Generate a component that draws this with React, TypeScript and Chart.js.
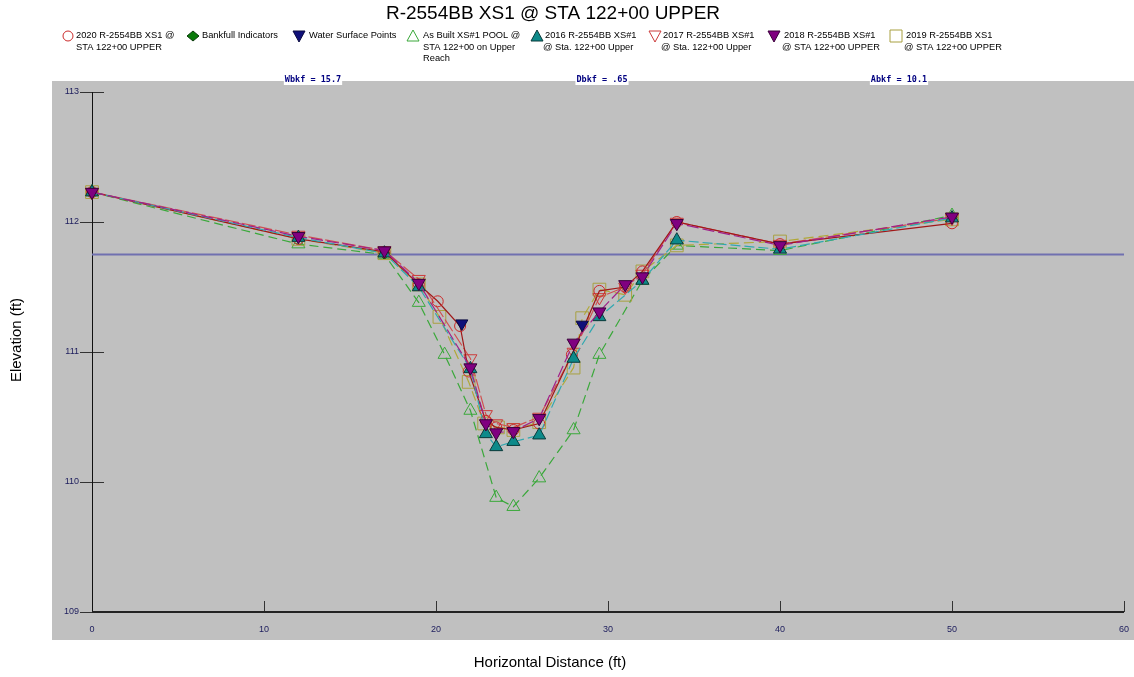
import React, { useEffect, useRef } from 'react';
import { Chart, registerables } from 'chart.js';

Chart.register(...registerables);

// ---- Data ----
const chartTitle = 'R-2554BB XS1 @ STA 122+00 UPPER';
const xAxisTitle = 'Horizontal Distance (ft)';
const yAxisTitle = 'Elevation (ft)';
const xTicks = [0, 10, 20, 30, 40, 50, 60];
const yTicks = [109, 110, 111, 112, 113];
const bankfullElevation = 111.75;
const bankfullLineX = [0, 60];
const topLabels = ['Wbkf = 15.7', 'Dbkf = .65', 'Abkf = 10.1'];

const x2020 = [0, 12, 17, 19, 20.1, 21.4, 21.9, 22.9, 23.5, 24.5, 26, 27.9, 29.5, 31, 32, 34, 40, 50];
const y2020 = [112.23, 111.87, 111.77, 111.52, 111.39, 111.2, 110.85, 110.47, 110.42, 110.4, 110.45, 110.98, 111.47, 111.5, 111.62, 112.0, 111.83, 111.99];

const xBankfull = [17];
const yBankfull = [111.76];

const xWater = [21.5, 28.5];
const yWater = [111.22, 111.21];

const xAsBuilt = [0, 12, 17, 19, 20.5, 22, 23.5, 24.5, 26, 28, 29.5, 32, 34, 40, 50];
const yAsBuilt = [112.23, 111.83, 111.75, 111.38, 110.98, 110.55, 109.88, 109.81, 110.03, 110.4, 110.98, 111.55, 111.82, 111.78, 112.05];

const x2016 = [0, 12, 17, 19, 22, 22.9, 23.5, 24.5, 26, 28, 29.5, 32, 34, 40, 50];
const y2016 = [112.23, 111.88, 111.76, 111.5, 110.87, 110.37, 110.27, 110.31, 110.36, 110.95, 111.27, 111.55, 111.86, 111.79, 112.03];

const x2017 = [0, 12, 17, 19, 22, 22.9, 23.5, 24.5, 26, 28, 29.5, 31, 32, 34, 40, 50];
const y2017 = [112.23, 111.9, 111.78, 111.56, 110.95, 110.52, 110.45, 110.42, 110.5, 111.0, 111.42, 111.5, 111.6, 112.0, 111.83, 112.03];

const x2018 = [0, 12, 17, 19, 22, 22.9, 23.5, 24.5, 26, 28, 29.5, 31, 32, 34, 40, 50];
const y2018 = [112.23, 111.89, 111.78, 111.53, 110.88, 110.45, 110.38, 110.39, 110.49, 111.07, 111.31, 111.52, 111.58, 111.99, 111.82, 112.04];

const x2019 = [0, 12, 17, 19, 20.2, 21.9, 22.8, 23.6, 24.5, 26, 28, 28.5, 29.5, 31, 32, 34, 40, 50];
const y2019 = [112.23, 111.87, 111.76, 111.52, 111.27, 110.77, 110.45, 110.42, 110.4, 110.46, 110.88, 111.26, 111.48, 111.44, 111.62, 111.82, 111.85, 112.02];

const legendLabels = [
  ['2020 R-2554BB XS1 @', 'STA 122+00 UPPER'],
  ['Bankfull Indicators'],
  ['Water Surface Points'],
  ['As Built XS#1 POOL @', 'STA 122+00 on Upper', 'Reach'],
  ['2016 R-2554BB XS#1', '@ Sta. 122+00 Upper'],
  ['2017 R-2554BB XS#1', '@ Sta. 122+00 Upper'],
  ['2018 R-2554BB XS#1', '@ STA 122+00 UPPER'],
  ['2019 R-2554BB XS1', '@ STA 122+00 UPPER'],
];

const pts = (xs: number[], ys: number[]) => xs.map((x, i) => ({ x, y: ys[i] }));

type MarkerKind = 'circle' | 'diamond' | 'triDown' | 'triUp' | 'square';
interface LegendStyle { kind: MarkerKind; fill: string | null; stroke: string; }
const legendStyles: LegendStyle[] = [
  { kind: 'circle', fill: null, stroke: '#cc2a2a' },
  { kind: 'diamond', fill: '#0a7a0a', stroke: '#0b3b0b' },
  { kind: 'triDown', fill: '#10107a', stroke: '#0a0a40' },
  { kind: 'triUp', fill: null, stroke: '#3aa83a' },
  { kind: 'triUp', fill: '#0d8a8a', stroke: '#0a3a3a' },
  { kind: 'triDown', fill: null, stroke: '#cc3a3a' },
  { kind: 'triDown', fill: '#800080', stroke: '#3a003a' },
  { kind: 'square', fill: null, stroke: '#a8a040' },
];
const legendMarkerX = [68, 193, 299, 413, 537, 655, 774, 896];
const legendTextX = [76, 202, 309, 423, 545, 663, 784, 906];

function drawMarker(ctx: CanvasRenderingContext2D, s: LegendStyle, x: number, y: number) {
  ctx.save();
  ctx.beginPath();
  if (s.kind === 'circle') {
    ctx.arc(x, y, 5, 0, Math.PI * 2);
  } else if (s.kind === 'diamond') {
    ctx.moveTo(x, y - 5); ctx.lineTo(x + 6, y); ctx.lineTo(x, y + 5); ctx.lineTo(x - 6, y); ctx.closePath();
  } else if (s.kind === 'triDown') {
    ctx.moveTo(x - 6, y - 5); ctx.lineTo(x + 6, y - 5); ctx.lineTo(x, y + 6); ctx.closePath();
  } else if (s.kind === 'triUp') {
    ctx.moveTo(x - 6, y + 5); ctx.lineTo(x + 6, y + 5); ctx.lineTo(x, y - 6); ctx.closePath();
  } else {
    ctx.rect(x - 6, y - 6, 12, 12);
  }
  if (s.fill) { ctx.fillStyle = s.fill; ctx.fill(); }
  ctx.lineWidth = 1;
  ctx.strokeStyle = s.stroke;
  ctx.stroke();
  ctx.restore();
}

const framePlugin = {
  id: 'frame',
  beforeDraw(chart: any) {
    const ctx = chart.ctx as CanvasRenderingContext2D;
    ctx.save();
    ctx.fillStyle = '#ffffff';
    ctx.fillRect(0, 0, chart.width, chart.height);
    ctx.fillStyle = '#c0c0c0';
    ctx.fillRect(52, 81, chart.width - 52, 640 - 81);
    ctx.restore();
  },
  beforeDatasetsDraw(chart: any) {
    const ctx = chart.ctx as CanvasRenderingContext2D;
    const xs = chart.scales.x;
    const ys = chart.scales.y;
    const x0 = xs.getPixelForValue(xTicks[0]);
    const x1 = xs.getPixelForValue(xTicks[xTicks.length - 1]);
    const y0 = ys.getPixelForValue(yTicks[0]);
    const y1 = ys.getPixelForValue(yTicks[yTicks.length - 1]);
    ctx.save();
    ctx.strokeStyle = '#333333';
    ctx.lineWidth = 1;
    yTicks.forEach((v) => {
      const y = Math.round(ys.getPixelForValue(v)) + 0.5;
      ctx.beginPath(); ctx.moveTo(x0 - 12, y); ctx.lineTo(x0 + 12, y); ctx.stroke();
    });
    xTicks.forEach((v) => {
      const x = Math.round(xs.getPixelForValue(v)) + 0.5;
      ctx.beginPath(); ctx.moveTo(x, y0 - 11); ctx.lineTo(x, y0); ctx.stroke();
    });
    ctx.strokeStyle = '#111111';
    ctx.beginPath(); ctx.moveTo(Math.round(x0) + 0.5, y1); ctx.lineTo(Math.round(x0) + 0.5, y0); ctx.stroke();
    ctx.lineWidth = 2;
    ctx.strokeStyle = '#222222';
    ctx.beginPath(); ctx.moveTo(x0, Math.round(y0)); ctx.lineTo(x1, Math.round(y0)); ctx.stroke();
    ctx.restore();
  },
  afterDraw(chart: any) {
    const ctx = chart.ctx as CanvasRenderingContext2D;
    const xs = chart.scales.x;
    const ys = chart.scales.y;
    const x0 = xs.getPixelForValue(xTicks[0]);
    const y0 = ys.getPixelForValue(yTicks[0]);
    ctx.save();
    ctx.fillStyle = '#1c1c5c';
    ctx.font = '9px "Liberation Sans", Arial, sans-serif';
    ctx.textAlign = 'right';
    ctx.textBaseline = 'middle';
    yTicks.forEach((v) => ctx.fillText(String(v), x0 - 13, ys.getPixelForValue(v)));
    ctx.textAlign = 'center';
    ctx.textBaseline = 'middle';
    xTicks.forEach((v) => ctx.fillText(String(v), xs.getPixelForValue(v), y0 + 18));
    ctx.fillStyle = '#000000';
    ctx.font = '19px "Liberation Sans", Arial, sans-serif';
    ctx.textAlign = 'center';
    ctx.textBaseline = 'middle';
    ctx.fillText(chartTitle, 553, 14);
    ctx.font = '15px "Liberation Sans", Arial, sans-serif';
    ctx.fillText(xAxisTitle, 550, 663);
    ctx.save();
    ctx.translate(17, 340);
    ctx.rotate(-Math.PI / 2);
    ctx.fillText(yAxisTitle, 0, 0);
    ctx.restore();
    ctx.font = '9.3px "Liberation Sans", Arial, sans-serif';
    ctx.textAlign = 'left';
    ctx.textBaseline = 'middle';
    legendLabels.forEach((lines, i) => {
      drawMarker(ctx, legendStyles[i], legendMarkerX[i], 36);
      lines.forEach((ln, j) => {
        ctx.fillStyle = '#000000';
        ctx.fillText(ln, legendTextX[i] - (j > 0 && i >= 4 ? 2 : 0), 35.5 + j * 11.5);
      });
    });
    ctx.font = 'bold 8.5px "DejaVu Sans Mono", "Liberation Mono", monospace';
    ctx.textAlign = 'center';
    ctx.textBaseline = 'middle';
    const centers = [313, 602, 899];
    topLabels.forEach((t, i) => {
      const w = ctx.measureText(t).width + 2;
      ctx.fillStyle = '#ffffff';
      ctx.fillRect(centers[i] - w / 2, 74, w, 11);
      ctx.fillStyle = '#000080';
      ctx.fillText(t, centers[i], 79.5);
    });
    ctx.restore();
  },
};

export default function App() {
  const ref = useRef<HTMLCanvasElement | null>(null);
  useEffect(() => {
    if (!ref.current) return;
    const chart = new Chart(ref.current, {
      type: 'line',
      data: {
        datasets: [
          {
            label: 'Water Surface Points',
            data: pts(xWater, yWater),
            showLine: false,
            pointStyle: 'triangle', rotation: 180,
            pointRadius: 7,
            backgroundColor: '#10107a', borderColor: '#0a0a40', pointBorderWidth: 1,
            order: 0, clip: false,
          },
          {
            label: '2018 R-2554BB XS#1 @ STA 122+00 UPPER',
            data: pts(x2018, y2018),
            borderColor: '#a0208a', borderWidth: 1.2, borderDash: [12, 4],
            pointStyle: 'triangle', rotation: 180, pointRadius: 7.5,
            pointBackgroundColor: '#800080', pointBorderColor: '#3a003a', pointBorderWidth: 1,
            order: 1, clip: false,
          },
          {
            label: '2016 R-2554BB XS#1 @ Sta. 122+00 Upper',
            data: pts(x2016, y2016),
            borderColor: '#30a8b0', borderWidth: 1.2, borderDash: [10, 4],
            pointStyle: 'triangle', pointRadius: 7.5,
            pointBackgroundColor: '#0d8a8a', pointBorderColor: '#0a3a3a', pointBorderWidth: 1,
            order: 2, clip: false,
          },
          {
            label: '2020 R-2554BB XS1 @ STA 122+00 UPPER',
            data: pts(x2020, y2020),
            borderColor: '#a01818', borderWidth: 1.2,
            pointStyle: 'circle', pointRadius: 5.5,
            pointBackgroundColor: 'rgba(0,0,0,0)', pointBorderColor: '#cc2a2a', pointBorderWidth: 1,
            order: 3, clip: false,
          },
          {
            label: '2017 R-2554BB XS#1 @ Sta. 122+00 Upper',
            data: pts(x2017, y2017),
            borderColor: '#d05050', borderWidth: 1.2, borderDash: [14, 3],
            pointStyle: 'triangle', rotation: 180, pointRadius: 7.5,
            pointBackgroundColor: 'rgba(0,0,0,0)', pointBorderColor: '#cc3a3a', pointBorderWidth: 1,
            order: 4, clip: false,
          },
          {
            label: '2019 R-2554BB XS1 @ STA 122+00 UPPER',
            data: pts(x2019, y2019),
            borderColor: '#b0a838', borderWidth: 1.2, borderDash: [10, 5],
            pointStyle: 'rect', pointRadius: 9,
            pointBackgroundColor: 'rgba(0,0,0,0)', pointBorderColor: '#a8a040', pointBorderWidth: 1,
            order: 5, clip: false,
          },
          {
            label: 'Bankfull Indicators',
            data: pts(xBankfull, yBankfull),
            showLine: false,
            pointStyle: 'rectRot', pointRadius: 6,
            backgroundColor: '#0a7a0a', borderColor: '#0b3b0b', pointBorderWidth: 1,
            order: 6, clip: false,
          },
          {
            label: 'As Built XS#1 POOL @ STA 122+00 on Upper Reach',
            data: pts(xAsBuilt, yAsBuilt),
            borderColor: '#3aa83a', borderWidth: 1.2, borderDash: [9, 5],
            pointStyle: 'triangle', pointRadius: 7.5,
            pointBackgroundColor: 'rgba(0,0,0,0)', pointBorderColor: '#3aa83a', pointBorderWidth: 1,
            order: 7, clip: false,
          },
          {
            label: 'Bankfull',
            data: bankfullLineX.map((x) => ({ x, y: bankfullElevation })),
            borderColor: '#7070b0', borderWidth: 2,
            pointRadius: 0,
            order: 8, clip: false,
          },
        ] as any,
      },
      options: {
        responsive: false,
        animation: false,
        devicePixelRatio: 1,
        layout: { padding: { left: 92, right: 8, top: 92, bottom: 65 } },
        elements: { line: { tension: 0 } },
        scales: {
          x: { type: 'linear', min: 0, max: 60, display: false },
          y: { type: 'linear', min: 109, max: 113, display: false },
        },
        plugins: { legend: { display: false }, tooltip: { enabled: false } },
        events: [],
      } as any,
      plugins: [framePlugin],
    });
    return () => chart.destroy();
  }, []);
  return (
    <div style={{ position: 'fixed', left: 0, top: 0, width: 1134, height: 677 }}>
      <canvas ref={ref} width={1134} height={677} style={{ width: 1134, height: 677, display: 'block' }} />
    </div>
  );
}
